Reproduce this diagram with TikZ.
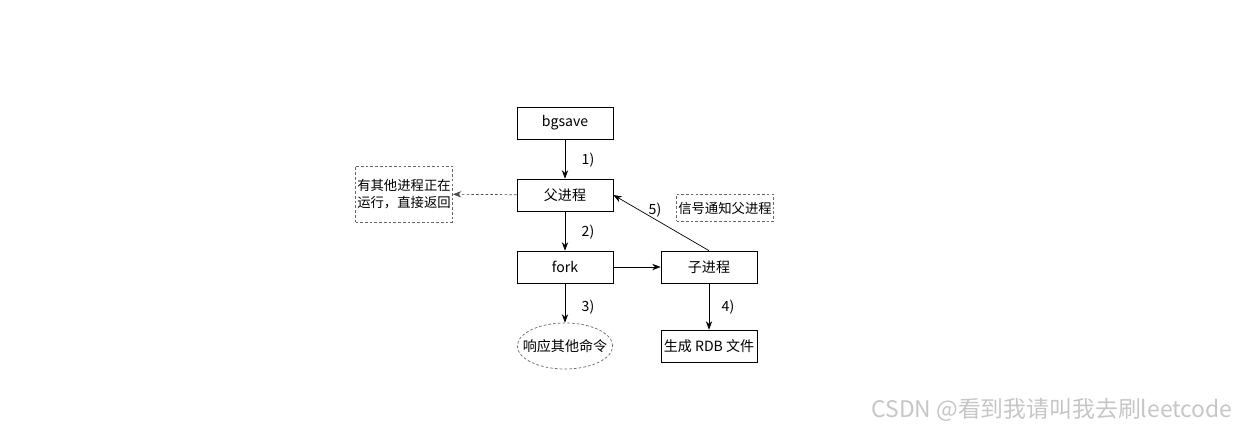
\documentclass[tikz,border=0pt]{standalone}
\usepackage{fontspec}
\setmainfont{Noto Sans CJK SC}
\usepackage{tikz}
\usetikzlibrary{arrows.meta}
\usetikzlibrary{shapes.geometric}
\usetikzlibrary{calc,positioning}

\tikzset{
	procbox/.style={draw, thin, minimum width=1.92cm, minimum height=0.64cm, inner xsep=1.5pt, font=\fontsize{8}{9}\selectfont},
	notebox/.style={draw, thin, gray!80!black, dash pattern=on 1.5pt off 1.2pt, text=black, inner sep=1pt, font=\fontsize{7.6}{10}\selectfont, align=left},
	steplabel/.style={font=\fontsize{8}{9}\selectfont},
}

\begin{document}
\begin{tikzpicture}[>=Stealth]
	\useasboundingbox (0,0) rectangle (24.82,8.6);
	
	% Caixas principais
	\node[procbox] (bgsave) at (11.3,6.14) {bgsave};
	\node[procbox] (pai) at (11.3,4.7) {父进程};
	\node[procbox] (fork) at (11.3,3.26) {fork};
	\node[procbox] (filho) at (14.18,3.26) {子进程};
	\node[procbox] (rdb) at (14.18,1.68) {生成 RDB 文件};
	\node[draw, ellipse, thin, gray!80!black, dash pattern=on 1.5pt off 1.2pt, text=black, minimum height=0.92cm, inner xsep=-0.17cm, inner ysep=0pt, font=\fontsize{8}{9}\selectfont] (resp) at (11.3,1.68) {响应其他命令};
	
	% Notas
	\node[notebox, minimum width=1.94cm, minimum height=1.12cm] (ocupado) at (8.08,4.72) {有其他进程正在\\运行，直接返回};
	\node[notebox, minimum width=1.92cm, minimum height=0.54cm] (sinal) at (14.5,4.44) {信号通知父进程};
	
	% Setas
	\draw[->] (bgsave) -- (pai);
	\draw[->] (pai) -- (fork);
	\draw[->] (fork) -- (filho);
	\draw[->] (fork) -- (resp);
	\draw[->] (filho) -- (rdb);
	\draw[->] (filho.north) -- (pai.east);
	\draw[->, gray!60!black, dash pattern=on 1.5pt off 1.2pt] (pai) -- (ocupado);
	
	% Passos
	\node[steplabel] (p1) at (11.76,5.4) {1)};
	\node[steplabel] (p2) at (11.76,3.96) {2)};
	\node[steplabel] (p3) at (11.76,2.46) {3)};
	\node[steplabel] (p4) at (14.56,2.46) {4)};
	\node[steplabel] (p5) at (13.1,4.4) {5)};
	
	% Marca d'agua
	\node[text=gray!45, font=\fontsize{13}{14}\selectfont] (marca) at (21.04,0.4) {CSDN @看到我请叫我去刷leetcode};
\end{tikzpicture}
\end{document}
